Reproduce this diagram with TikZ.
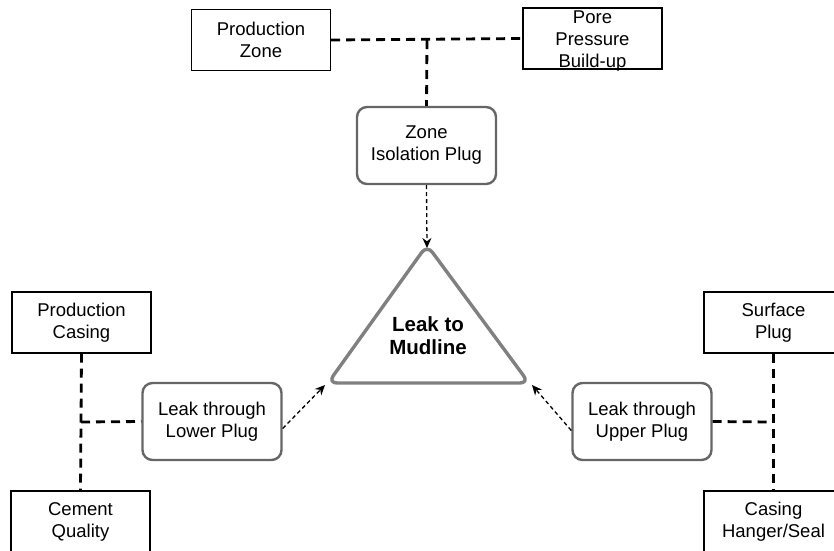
\documentclass[tikz,border=0pt]{standalone}
\usepackage{fontspec}
\setmainfont{Liberation Sans}
\usetikzlibrary{arrows.meta}
\definecolor{edgegray}{HTML}{666666}
\definecolor{trigray}{HTML}{808080}
\tikzset{
  factor/.style={draw=black, line width=1.4pt, fill=white, inner sep=0pt,
    minimum width=139pt, minimum height=61pt, align=center,
    font=\fontsize{18.5}{22}\selectfont},
  event/.style={draw=edgegray, line width=2.4pt, rounded corners=10pt, fill=white,
    inner sep=0pt, minimum width=139pt, minimum height=77pt, align=center,
    font=\fontsize{18.5}{22}\selectfont},
  link/.style={line width=2.8pt, dash pattern=on 9pt off 6pt},
  feed/.style={line width=1.3pt, dash pattern=on 4pt off 3pt,
    -{Stealth[length=10pt,width=9pt]}},
}
\begin{document}
\begin{tikzpicture}[x=1pt,y=-1pt]
\useasboundingbox (0,0) rectangle (834,550);
\clip (0,0) rectangle (834,550);

% top branch
\node[factor] (pz) at (261,40) {Production\\Zone};
\node[factor] (pp) at (592.5,38.5) {};
\node[align=center, inner sep=0pt, font=\fontsize{18.5}{22}\selectfont] (pptext) at (592.5,41.5) {Pore\\Pressure\\Build-up};
\node[event] (zip) at (426.5,145.5) {Zone\\Isolation Plug};
\coordinate (jt) at (427,40);
\draw[link] (pz.east) -- (pp.west);
\draw[link] (jt) -- (zip.north);

% central top event
\coordinate (ta) at (427,245);
\coordinate (tl) at (328,383);
\coordinate (tr) at (529,383);
\draw[trigray, line width=3.4pt, rounded corners=9pt, line join=round]
  (ta) -- (tr) -- (tl) -- cycle;
\node[align=center, font=\bfseries\fontsize{20.5}{23}\selectfont] (mud) at (428,336) {Leak to\\Mudline};

% left branch
\node[factor] (pc) at (81.5,322.5) {Production\\Casing};
\node[factor] (cq) at (80.5,521.5) {Cement\\Quality};
\node[event] (llp) at (212,421.5) {Leak through\\Lower Plug};
\coordinate (jl) at (81,422);
\draw[link] (pc.south) -- (cq.north);
\draw[link] (jl) -- (llp.west);

% right branch
\node[factor] (sp) at (773.5,322.5) {Surface\\Plug};
\node[factor] (ch) at (773.5,521.5) {Casing\\Hanger/Seal};
\node[event] (lup) at (642,421.5) {Leak through\\Upper Plug};
\coordinate (jr) at (772,422);
\draw[link] (sp.south) -- (ch.north);
\draw[link] (lup.east) -- (jr);

% contributions to the top event
\draw[feed] (zip.south) -- ([yshift=-3pt]ta);
\draw[feed] ([yshift=-7pt]llp.east) -- ([xshift=-3pt,yshift=-2pt]tl);
\draw[feed] ([yshift=-9pt]lup.west) -- ([xshift=3pt,yshift=-2pt]tr);
\end{tikzpicture}
\end{document}
